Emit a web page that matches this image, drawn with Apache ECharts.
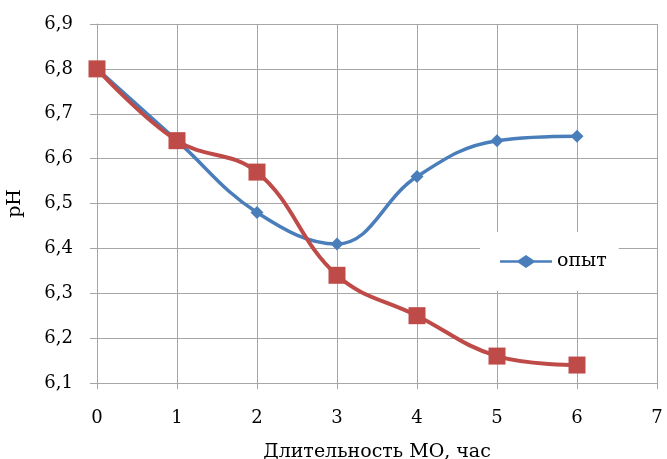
<!DOCTYPE html>
<html>
<head>
<meta charset="utf-8">
<script src="https://cdn.jsdelivr.net/npm/echarts@6/dist/echarts.min.js"></script>
<style>
    html, body { margin: 0; padding: 0; background: #fff; }
    #chart { width: 667px; height: 459px; }
</style>
</head>
<body>
<div id="chart"></div>
<script>
// 数据
const hours = [0, 1, 2, 3, 4, 5, 6];
const opytValues = [6.80, 6.64, 6.48, 6.41, 6.56, 6.64, 6.65];
const secondValues = [6.80, 6.64, 6.57, 6.34, 6.25, 6.16, 6.14];

const FONT = "'DejaVu Serif', 'Liberation Serif', serif";
const GRID_COLOR = '#a6a6a6';

const chart = echarts.init(document.getElementById('chart'));

chart.setOption({
    animation: false,
    textStyle: { fontFamily: FONT },
    grid: { left: 97, right: 10, top: 24, bottom: 76, outerBoundsMode: 'none' },
    legend: {
        data: [{ name: 'опыт', icon: 'path://M0,4 L14,4 L20,0 L26,4 L40,4 L40,6 L26,6 L20,10 L14,6 L0,6 Z' }],
        left: 480,
        top: 232,
        padding: [20, 12, 20, 20],
        backgroundColor: '#ffffff',
        itemWidth: 52,
        itemHeight: 13,
        itemGap: 6,
        textStyle: { fontFamily: FONT, fontSize: 19, color: '#000' }
    },
    xAxis: {
        type: 'value',
        min: 0,
        max: 7,
        interval: 1,
        name: 'Длительность МО, час',
        nameLocation: 'middle',
        nameGap: 60,
        nameTextStyle: { fontFamily: FONT, fontSize: 19, color: '#000' },
        axisLine: { lineStyle: { color: GRID_COLOR } },
        axisTick: { show: true, length: 6, lineStyle: { color: GRID_COLOR } },
        axisLabel: { fontFamily: FONT, fontSize: 18, color: '#000', margin: 26 },
        splitLine: { show: true, lineStyle: { color: GRID_COLOR } }
    },
    yAxis: {
        type: 'value',
        min: 6.1,
        max: 6.9,
        interval: 0.1,
        name: 'pH',
        nameLocation: 'middle',
        nameGap: 72,
        nameTextStyle: { fontFamily: FONT, fontSize: 19, color: '#000' },
        axisLine: { show: true, lineStyle: { color: GRID_COLOR } },
        axisTick: { show: true, length: 7, lineStyle: { color: GRID_COLOR } },
        axisLabel: {
            fontFamily: FONT, fontSize: 18, color: '#000', margin: 24,
            formatter: v => v.toFixed(1).replace('.', ',')
        },
        splitLine: { show: true, lineStyle: { color: GRID_COLOR } }
    },
    series: [
        {
            name: 'опыт',
            type: 'line',
            smooth: 0.4,
            data: hours.map((h, i) => [h, opytValues[i]]),
            symbol: 'diamond',
            symbolSize: 13,
            itemStyle: { color: '#4a7ebb' },
            lineStyle: { color: '#4a7ebb', width: 3.5 }
        },
        {
            name: 'контроль',
            type: 'line',
            smooth: 0.4,
            data: hours.map((h, i) => [h, secondValues[i]]),
            symbol: 'rect',
            symbolSize: 17,
            itemStyle: { color: '#be4b48' },
            lineStyle: { color: '#be4b48', width: 4 },
            z: 3
        }
    ]
});
</script>
</body>
</html>
